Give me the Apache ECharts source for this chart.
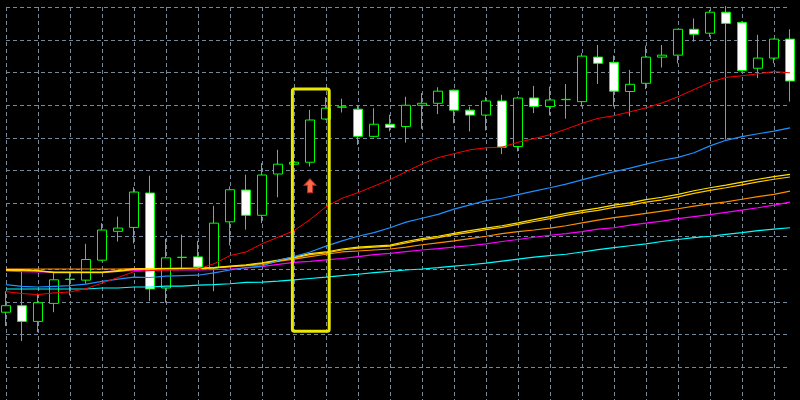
<!DOCTYPE html>
<html>
<head>
<meta charset="utf-8">
<script src="https://cdn.jsdelivr.net/npm/echarts@6.0.0/dist/echarts.min.js"></script>
<style>html,body{margin:0;padding:0;background:#000;}#chart{width:800px;height:400px;}</style>
</head>
<body>
<div id="chart"></div>
<script>
const categories = ['1','2','3','4','5','6','7','8','9','10','11','12','13','14','15','16','17','18','19','20','21','22','23','24','25','26','27','28','29','30','31','32','33','34','35','36','37','38','39','40','41','42','43','44','45','46','47','48','49','50'];

const openP  = [26.8,28.8,24.0,29.5,36.8,36.6,42.7,51.5,52.7,63.2,34.2,43.5,43.7,40.3,54.4,64.1,56.4,69.0,72.0,72.6,85.8,89.4,88.8,80.5,84.2,83.5,90.0,90.6,94.6,88.5,87.0,91.3,77.4,92.2,89.6,91.7,91.1,104.7,103.1,94.2,96.7,104.7,105.3,113.2,112.0,118.4,115.3,101.3,104.4,110.2];
const closeP = [28.8,24.0,29.7,36.7,36.9,42.9,51.9,52.5,63.5,33.9,43.4,43.6,40.6,54.0,64.2,56.4,68.7,72.0,72.6,85.5,89.1,89.5,80.5,84.2,83.2,90.0,90.6,94.3,88.5,87.0,91.3,77.2,92.2,89.6,91.6,91.8,105.0,102.8,94.3,96.4,104.7,105.3,113.2,111.7,118.4,115.0,100.6,104.4,110.2,97.4];
const lowP   = [22.6,18.0,20.7,26.8,31.9,35.5,42.4,48.4,47.8,30.2,29.7,40.3,40.2,33.2,47.2,52.0,54.0,61.9,71.7,71.3,85.5,87.8,77.9,80.2,82.0,78.6,82.8,87.3,84.5,82.0,82.3,75.1,75.9,87.6,86.9,85.9,89.6,96.5,89.6,86.6,94.9,101.5,102.8,109.4,110.9,79.5,100.3,98.3,102.8,91.1];
const highP  = [33.2,39.2,32.5,38.8,39.2,47.7,54.0,56.0,65.0,68.5,49.2,50.5,48.6,59.3,65.2,68.8,72.3,76.4,76.1,88.6,92.5,92.0,90.1,89.1,87.1,92.6,93.7,95.5,94.8,89.6,92.5,93.2,92.6,95.9,95.7,96.5,105.9,108.4,105.2,100.8,108.2,108.4,113.3,116.5,119.1,120.3,115.6,111.5,110.4,113.2];

const maRed     = [33.1,32.5,32.2,32.7,33.0,34.0,35.7,37.4,39.2,39.5,39.7,39.8,40.0,41.6,44.1,45.2,47.7,49.7,51.7,55.1,59.0,61.6,63.3,65.3,67.3,69.7,72.1,74.0,75.2,76.4,77.0,77.2,78.7,79.8,81.0,82.7,84.5,86.0,86.8,88.0,89.2,90.7,92.6,94.8,97.0,98.5,99.0,99.6,100.3,99.9];
const maBlue    = [35.2,34.7,34.5,34.7,34.9,35.4,36.2,36.9,37.5,37.4,37.8,38.0,38.1,38.8,39.7,40.4,40.9,42.6,43.8,45.2,47.0,48.6,50.0,51.1,52.6,54.3,55.5,56.7,58.3,59.6,60.9,61.6,62.7,63.8,64.8,65.9,67.2,68.5,69.7,70.8,72.0,73.2,74.1,75.5,77.6,79.3,80.4,81.3,82.1,83.1];
const maYellowA = [39.8,39.8,39.5,39.0,39.0,39.0,39.0,39.5,40.0,40.1,40.1,40.1,40.2,40.4,40.9,41.3,41.9,42.7,43.6,44.7,45.2,46.1,46.7,47.0,47.3,48.4,49.3,50.0,50.9,51.7,52.5,53.2,54.1,55.1,56.0,57.0,57.8,58.6,59.5,60.2,61.2,61.9,62.8,63.9,64.8,65.6,66.5,67.4,68.2,68.9];
const maYellowB = [39.6,39.6,39.4,38.9,38.9,38.9,38.9,39.3,39.9,40.0,40.0,40.0,40.1,40.3,40.7,41.1,41.7,42.5,43.4,44.4,44.9,45.8,46.4,46.7,47.0,48.0,48.9,49.6,50.5,51.2,52.0,52.7,53.6,54.5,55.4,56.4,57.2,57.9,58.8,59.5,60.4,61.1,62.0,63.1,64.0,64.8,65.7,66.6,67.4,68.1];
const maOrange  = [40.0,40.0,40.0,40.0,40.0,40.0,40.0,40.0,40.1,40.1,40.2,40.3,40.3,40.4,40.7,41.0,41.3,42.3,43.0,43.8,44.5,45.2,45.5,45.8,46.1,46.7,47.4,48.0,48.6,49.3,50.0,50.8,51.4,51.9,52.5,53.2,54.1,54.9,55.7,56.3,57.0,57.7,58.4,59.2,59.9,60.5,61.3,62.1,62.8,63.8];
const maMagenta = [39.4,39.2,39.1,39.1,39.1,39.1,39.1,39.4,39.5,39.7,39.7,39.7,39.7,39.8,40.0,40.3,40.7,41.4,42.0,42.3,42.8,43.2,43.8,44.4,44.8,45.3,45.8,46.2,46.7,47.1,47.7,48.4,49.0,49.7,50.3,50.8,51.4,52.2,52.6,53.4,54.0,54.6,55.4,56.0,56.6,57.3,58.0,58.7,59.5,60.4];
const maCyan    = [33.9,33.9,33.9,33.9,33.9,33.9,34.2,34.2,34.5,34.5,34.8,34.8,35.1,35.2,35.5,35.9,36.0,36.3,36.7,37.1,37.5,38.0,38.4,38.9,39.3,39.7,40.0,40.4,40.9,41.3,41.8,42.4,43.0,43.6,44.1,44.5,45.2,45.9,46.5,47.1,47.7,48.4,49.0,49.6,50.0,50.6,51.1,51.7,52.2,52.6];

// signal arrow: [category index, price]
const buyArrow = [[19, 65.4]];
// highlight box: [first index, last index, top price, bottom price]
const highlightBox = [[18, 20, 95.0, 21.0]];

const ohlc = openP.map((o, i) => [o, closeP[i], lowP[i], highP[i]]);

function maSeries(name, data, color, width) {
  return {
    name: name, type: 'line', data: data, symbol: 'none', silent: true,
    lineStyle: { color: color, width: width }, z: 3
  };
}

const chart = echarts.init(document.getElementById('chart'), null, { renderer: 'canvas' });
chart.setOption({
  backgroundColor: '#000000',
  animation: false,
  grid: { left: 6, right: 10, top: 7, height: 393.6 },
  xAxis: {
    type: 'category', data: categories, boundaryGap: false,
    axisLine: { show: false }, axisTick: { show: false }, axisLabel: { show: false },
    splitLine: { show: true, interval: 1, lineStyle: { color: '#778899', type: [4, 3], width: 1 } }
  },
  yAxis: {
    type: 'value', min: 0, max: 120, interval: 10,
    axisLine: { show: false }, axisTick: { show: false }, axisLabel: { show: false },
    splitLine: { show: true, lineStyle: { color: '#778899', type: [4, 3], width: 1 } }
  },
  series: [
    {
      name: 'Price', type: 'candlestick', data: ohlc, barWidth: 10, clip: false, z: 2,
      itemStyle: {
        color: '#000000', color0: '#ffffff',
        borderColor: '#00ff00', borderColor0: '#00ff00', borderColorDoji: '#00ff00',
        borderWidth: 1
      }
    },
    maSeries('MA Cyan', maCyan, '#00ffff', 1.2),
    maSeries('MA Magenta', maMagenta, '#ff00ff', 1.2),
    maSeries('MA Orange', maOrange, '#ff8c00', 1.2),
    maSeries('MA Gold', maYellowB, '#ffc400', 1.2),
    maSeries('MA Yellow', maYellowA, '#ffe000', 1.2),
    maSeries('MA Blue', maBlue, '#1e90ff', 1.2),
    maSeries('MA Red', maRed, '#ff0000', 1),
    {
      name: 'Buy', type: 'scatter', data: buyArrow, z: 5, silent: true,
      symbol: 'path://M6,0 L12,6.5 L8.5,6.5 L8.5,14 L3.5,14 L3.5,6.5 L0,6.5 Z',
      symbolSize: [12, 14],
      itemStyle: { color: '#ff6a4d', borderColor: '#b83220', borderWidth: 1, opacity: 1 }
    },
    {
      name: 'Highlight', type: 'custom', data: highlightBox, z: 6, silent: true,
      encode: { x: [0, 1], y: [2, 3] },
      renderItem: function (params, api) {
        const a = api.coord([api.value(0), api.value(2)]);
        const b = api.coord([api.value(1), api.value(3)]);
        const bw = api.size([1, 0])[0];
        return {
          type: 'rect',
          shape: { x: a[0] - bw * 0.1, y: a[1], width: (b[0] - a[0]) + bw * 0.3, height: b[1] - a[1], r: 2 },
          style: { fill: 'none', stroke: '#e8e800', lineWidth: 3 }
        };
      }
    }
  ]
});
</script>
</body>
</html>
